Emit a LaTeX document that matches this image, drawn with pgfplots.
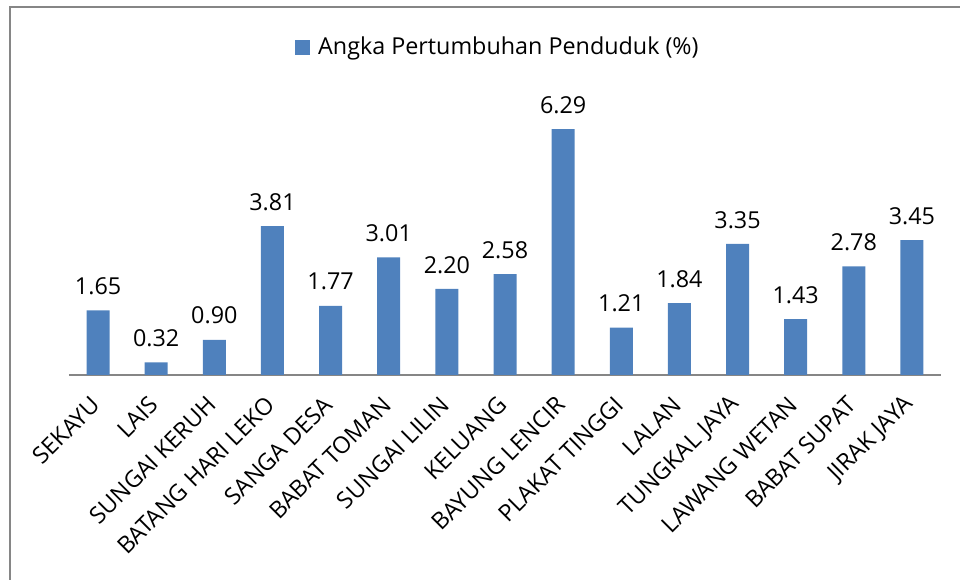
\documentclass[border=0pt]{standalone}
\usepackage{pgfplots}
\pgfplotsset{compat=1.18}
\usepackage{fontspec}
\setmainfont{Open Sans}
\definecolor{barblue}{HTML}{4F81BD}
\definecolor{axgray}{HTML}{868686}
\begin{document}
\begin{tikzpicture}[x=1pt,y=1pt]
\path[use as bounding box] (-51.75,-153.75) rectangle (668.25,281.25);
\begin{axis}[
  at={(0,0)}, anchor=south west,
  scale only axis, width=654pt, height=205.3pt,
  xmin=-0.5, xmax=14.5, ymin=0, ymax=7,
  ybar, bar width=17.25pt,
  axis x line*=bottom, axis y line=none,
  x axis line style={axgray, line width=1.1pt, -},
  xtick={0,...,14},
  xticklabels={SEKAYU,LAIS,SUNGAI KERUH,BATANG HARI LEKO,SANGA DESA,BABAT TOMAN,SUNGAI LILIN,KELUANG,BAYUNG LENCIR,PLAKAT TINGGI,LALAN,TUNGKAL JAYA,LAWANG WETAN,BABAT SUPAT,JIRAK JAYA},
  xtick style={draw=none},
  xticklabel style={xshift=-1.5pt, yshift=-15pt, rotate=45, anchor=east, font=\fontsize{17.5}{20}\selectfont, inner sep=0pt},
  ytick=\empty,
  point meta=explicit symbolic,
  nodes near coords={\pgfplotspointmeta},
  every node near coord/.append style={font=\fontsize{17.5}{20}\selectfont, text=black, inner sep=0pt, yshift=11.5pt},
  legend style={at={(0.492,1.198)}, anchor=center, draw=none, font=\fontsize{17.5}{20}\selectfont, inner sep=0pt},
  legend image code/.code={\fill[barblue] (0pt,-5.6pt) rectangle (11.25pt,5.6pt); \path (15.5pt,0pt);},
  clip=false,
]
\addplot[fill=barblue, draw=none] coordinates {
(0,1.65) [1.65]
(1,0.32) [0.32]
(2,0.90) [0.90]
(3,3.81) [3.81]
(4,1.77) [1.77]
(5,3.01) [3.01]
(6,2.20) [2.20]
(7,2.58) [2.58]
(8,6.29) [6.29]
(9,1.21) [1.21]
(10,1.84) [1.84]
(11,3.35) [3.35]
(12,1.43) [1.43]
(13,2.78) [2.78]
(14,3.45) [3.45]
};
\addlegendentry{Angka Pertumbuhan Penduduk (\%)}
\end{axis}
\draw[axgray, line width=1.1pt] (-44.25,-200) -- (-44.25,276) -- (700,276);
\end{tikzpicture}
\end{document}
